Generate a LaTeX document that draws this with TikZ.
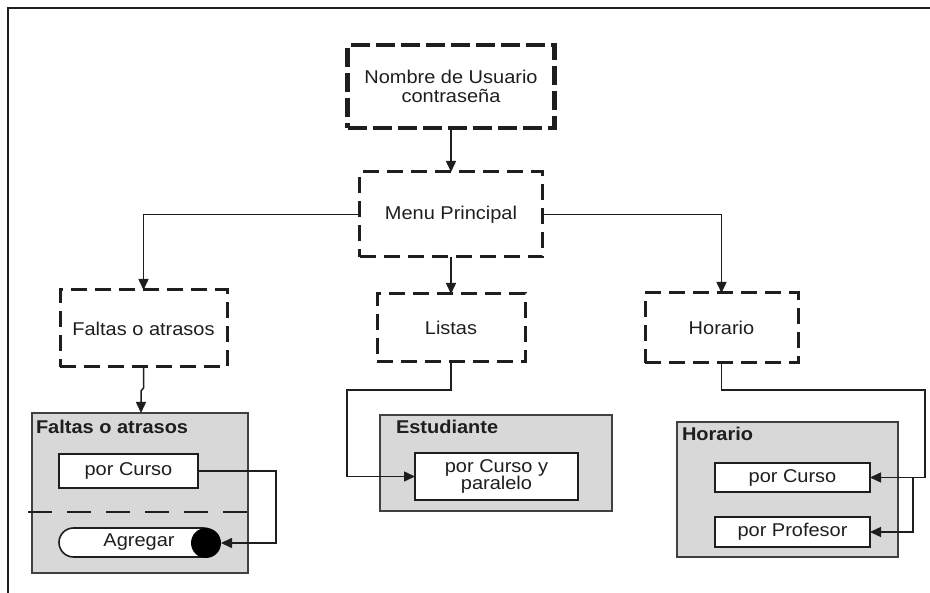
\documentclass[tikz,border=0pt]{standalone}
\usepackage{fontspec}
\setmainfont{Liberation Sans}[FakeStretch=1.08]
\usetikzlibrary{arrows.meta}
\definecolor{panelgray}{RGB}{216,216,216}
\definecolor{ink}{RGB}{30,30,30}
\begin{document}
\begin{tikzpicture}[x=1pt,y=-1pt,
  font=\fontsize{18.5}{18.5}\selectfont,
  every node/.style={inner sep=0pt,outer sep=0pt,text=ink,align=center},
  dashbox/.style={draw=ink,line width=3pt,dash pattern=on 16pt off 8pt,rectangle},
  topbox/.style={draw=ink,line width=4.2pt,dash pattern=on 19pt off 6pt,rectangle},
  panel/.style={draw=ink!85,fill=panelgray,line width=1.8pt,rectangle},
  item/.style={draw=ink,fill=white,line width=1.6pt,rectangle},
  paneltitle/.style={anchor=west,font=\fontsize{18.5}{18.5}\selectfont\bfseries},
  conn/.style={draw=ink,line width=1.5pt},
  arr/.style={conn,-{Triangle[length=11pt,width=10pt]}}
]
\useasboundingbox (0,0) rectangle (930,593);

% outer frame
\draw[line width=1.8pt,ink] (8,593) -- (8,8) -- (930,8);

% login and main menu
\node[topbox,minimum width=207pt,minimum height=83pt] (user) at (451,86.5)
  {Nombre de Usuario\\[1pt]contraseña};
\node[dashbox,minimum width=183pt,minimum height=85pt] (menu) at (451,214.5)
  {Menu Principal};

% second level
\node[dashbox,minimum width=167pt,minimum height=77pt] (faltas) at (143.5,328.5)
  {Faltas o atrasos};
\node[dashbox,minimum width=148pt,minimum height=68pt] (listas) at (451,328)
  {Listas};
\node[dashbox,minimum width=153pt,minimum height=70pt] (horario) at (721.5,328)
  {Horario};

% panel: Faltas o atrasos
\node[panel,minimum width=216pt,minimum height=160pt] (pfaltas) at (140,493) {};
\node[paneltitle] (tfaltas) at (36,427) {Faltas o atrasos};
\node[item,minimum width=139pt,minimum height=34pt] (fcurso) at (128.5,471) {por Curso};
\draw[ink,line width=1.6pt,dash pattern=on 24pt off 15pt] (28,512) -- (248,512);
\node[item,rounded corners=14.5pt,minimum width=159pt,minimum height=29pt] (agregar) at (138.5,542.5) {};
\node (tagregar) at (139,542.5) {Agregar};
\node[circle,fill=black,minimum size=30pt] (dot) at (206,543) {};

% panel: Estudiante
\node[panel,minimum width=232pt,minimum height=96pt] (pest) at (496,463) {};
\node[paneltitle] (test) at (396,427) {Estudiante};
\node[item,minimum width=163pt,minimum height=47pt] (estbox) at (496.5,476.5)
  {por Curso y\\[-1pt]paralelo};

% panel: Horario
\node[panel,minimum width=221pt,minimum height=135pt] (phor) at (787.5,489.5) {};
\node[paneltitle] (thor) at (682,434) {Horario};
\node[item,minimum width=155pt,minimum height=29pt] (hcurso) at (792.5,477.5) {por Curso};
\node[item,minimum width=155pt,minimum height=30pt] (hprof) at (792.5,532) {por Profesor};
\coordinate (split) at (913,477.5);

% connectors
\draw[arr] (user.south) -- (menu.north);
\draw[arr] (menu.west) -| (faltas.north);
\draw[arr] (menu.south) -- (listas.north);
\draw[arr] (menu.east) -| (horario.north);
\draw[arr] (faltas.south) -- (143.5,388) -- (141,391) -- (141,413);
\draw[arr] (fcurso.east) -- (276,471) -- (276,543) -- (dot.east);
\draw[arr] (listas.south) -- (451,390) -- (347,390) |- (estbox.west);
\draw[arr] (horario.south) -- (721.5,390) -- (925,390) |- (hcurso.east);
\draw[arr] (split) |- (hprof.east);
\end{tikzpicture}
\end{document}
